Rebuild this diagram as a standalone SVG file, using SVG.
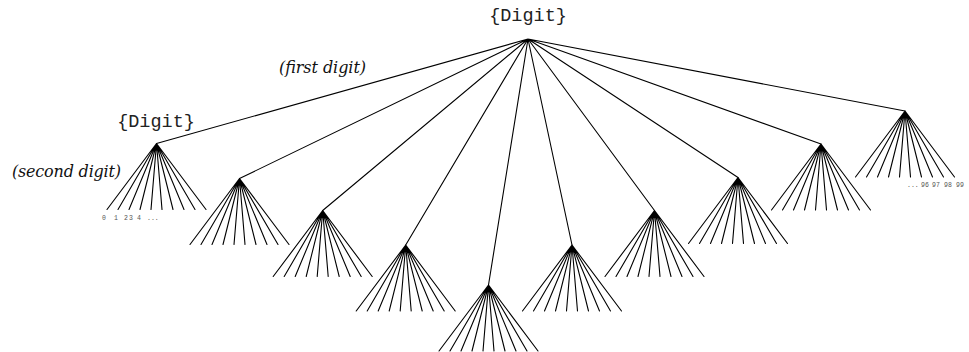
<svg xmlns="http://www.w3.org/2000/svg" xmlns:xlink="http://www.w3.org/1999/xlink" width="969" height="352" viewBox="0 0 969 352">
<style>
.ln{stroke:#000;stroke-width:1.1;fill:none;stroke-linecap:round}
.mono{font-family:"Liberation Mono","Courier New",monospace;font-size:18.5px;fill:#222}
.it{font-family:"DejaVu Serif","Liberation Serif",serif;font-style:italic;font-size:16px;fill:#111}
.tiny{font-family:"Liberation Mono","DejaVu Sans Mono",monospace;font-size:6.5px;fill:#555}
</style>
<defs>
<path id="fan" class="ln" d="M0 0L-49.5 66M0 0L-38.5 66M0 0L-27.5 66M0 0L-16.5 66M0 0L-5.5 66M0 0L5.5 66M0 0L16.5 66M0 0L27.5 66M0 0L38.5 66M0 0L49.5 66"/>
</defs>
<rect width="969" height="352" fill="#fff"/>
<g id="connectors">
<path class="ln" d="M528 39L156.5 143.5M528 39L239.5 178.5M528 39L322.7 210.5M528 39L405.7 245M528 39L488.5 285M528 39L572 245M528 39L654.5 210.5M528 39L738 177.5M528 39L821 144M528 39L905 111"/>
</g>
<g id="root"><text class="mono" x="528" y="21" text-anchor="middle">{Digit}</text></g>
<g id="label-first"><text class="it" x="279" y="73" textLength="87">(first digit)</text></g>
<g id="label-second"><text class="it" x="12" y="177" textLength="109">(second digit)</text></g>
<g id="n0"><text class="mono" x="156" y="127" text-anchor="middle">{Digit}</text><use xlink:href="#fan" x="156.5" y="143.5"/>
<text class="tiny" x="102" y="220">0</text><text class="tiny" x="114" y="220">1</text><text class="tiny" x="124" y="220">2</text><text class="tiny" x="129" y="220">3</text><text class="tiny" x="137" y="220">4</text><text class="tiny" x="147" y="220">...</text></g>
<g id="n1"><use xlink:href="#fan" x="239.5" y="178.5"/></g>
<g id="n2"><use xlink:href="#fan" x="322.7" y="210.5"/></g>
<g id="n3"><use xlink:href="#fan" x="405.7" y="245"/></g>
<g id="n4"><use xlink:href="#fan" x="488.5" y="285"/></g>
<g id="n5"><use xlink:href="#fan" x="572" y="245"/></g>
<g id="n6"><use xlink:href="#fan" x="654.5" y="210.5"/></g>
<g id="n7"><use xlink:href="#fan" x="738" y="177.5"/></g>
<g id="n8"><use xlink:href="#fan" x="821" y="144"/></g>
<g id="n9"><use xlink:href="#fan" x="905" y="111"/>
<text class="tiny" x="907" y="187">...</text><text class="tiny" x="921" y="187">96</text><text class="tiny" x="932" y="187">97</text><text class="tiny" x="944" y="187">98</text><text class="tiny" x="956" y="187">99</text></g>
</svg>
